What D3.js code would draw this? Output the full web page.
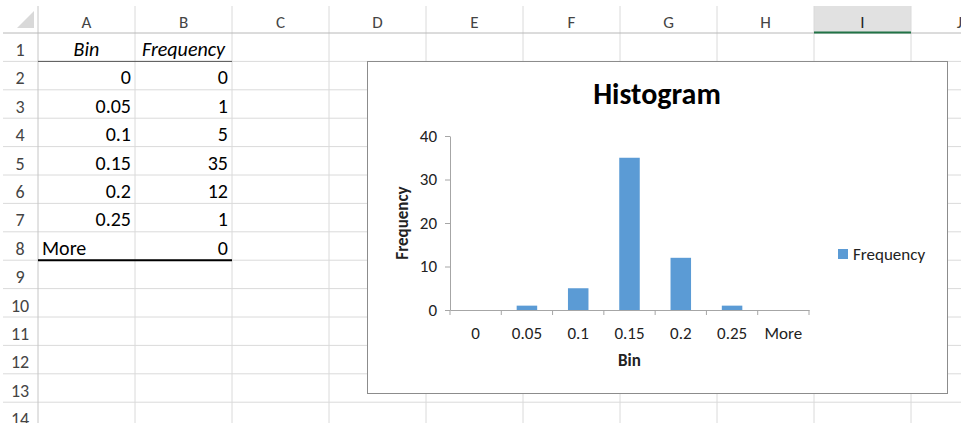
<!DOCTYPE html>
<html>
<head>
<meta charset="utf-8">
<script src="https://cdn.jsdelivr.net/npm/d3@7"></script>
<style>
  body { margin: 0; background: #fff; }
  text { font-family: Carlito, Calibri, "Open Sans", sans-serif; }
</style>
</head>
<body>
<div id="sheet"></div>
<script>
// Histogram data, also shown in the cells A1:B8
const bins = ["0", "0.05", "0.1", "0.15", "0.2", "0.25", "More"];
const freqs = [0, 1, 5, 35, 12, 1, 0];
const yTicks = [0, 10, 20, 30, 40];
const colLetters = ["A", "B", "C", "D", "E", "F", "G", "H", "I", "J"];
const rowNumbers = d3.range(1, 15);

const W = 961, H = 423;
const svg = d3.select("#sheet").append("svg")
    .attr("width", W)
    .attr("height", H);

// spreadsheet grid
const headTop = 6, headBottom = 33, rowH = 28.4;
const colX = d3.scaleLinear().domain([0, 1]).range([38, 135]); // one column ~97px
const rowY = i => headBottom + i * rowH;

const grid = svg.append("g");

// header background for selected column I
grid.append("rect")
    .attr("x", colX(8)).attr("y", headTop)
    .attr("width", colX(9) - colX(8)).attr("height", headBottom - headTop)
    .attr("fill", "#e1e1e1");

// horizontal grid lines
rowNumbers.forEach((r, i) => {
  grid.append("line")
      .attr("x1", 3).attr("x2", W)
      .attr("y1", rowY(i + 1)).attr("y2", rowY(i + 1))
      .attr("stroke", "#dadada");
});
// vertical grid lines
d3.range(0, 11).forEach(c => {
  grid.append("line")
      .attr("x1", colX(c)).attr("x2", colX(c))
      .attr("y1", headTop).attr("y2", H)
      .attr("stroke", c === 0 ? "#c6c6c6" : "#dadada");
});
// header bottom line
grid.append("line")
    .attr("x1", 3).attr("x2", W)
    .attr("y1", headBottom).attr("y2", headBottom)
    .attr("stroke", "#b8b8b8");
// selected column marker
grid.append("line")
    .attr("x1", colX(8)).attr("x2", colX(9))
    .attr("y1", headBottom - 0.5).attr("y2", headBottom - 0.5)
    .attr("stroke", "#217346").attr("stroke-width", 2);

// select-all triangle
grid.append("path")
    .attr("d", "M17,28 L34,28 L34,11 Z")
    .attr("fill", "#d9d9d9");

// column letters
grid.selectAll(".colhead")
    .data(colLetters)
    .enter().append("text")
    .attr("x", (d, i) => colX(i + 0.5))
    .attr("y", 28)
    .attr("text-anchor", "middle")
    .style("font-size", "17px")
    .attr("fill", d => d === "I" ? "#222" : "#444")
    .text(d => d);

// row numbers
grid.selectAll(".rowhead")
    .data(rowNumbers)
    .enter().append("text")
    .attr("x", 20)
    .attr("y", (d, i) => rowY(i) + 23)
    .attr("text-anchor", "middle")
    .style("font-size", "18px")
    .attr("fill", "#444")
    .text(d => d);

// cells A1:B8
const cells = svg.append("g").style("font-size", "20px").attr("fill", "#000");
cells.append("text").attr("x", colX(0.5)).attr("y", rowY(0) + 23)
    .attr("text-anchor", "middle").style("font-style", "italic").text("Bin");
cells.append("text").attr("x", colX(1.5)).attr("y", rowY(0) + 23)
    .attr("text-anchor", "middle").style("font-style", "italic").text("Frequency");
bins.forEach((b, i) => {
  const isNum = b !== "More";
  cells.append("text")
      .attr("x", isNum ? colX(1) - 4 : colX(0) + 4)
      .attr("y", rowY(i + 1) + 23)
      .attr("text-anchor", isNum ? "end" : "start")
      .text(b);
  cells.append("text")
      .attr("x", colX(2) - 4)
      .attr("y", rowY(i + 1) + 23)
      .attr("text-anchor", "end")
      .text(freqs[i]);
});
// table borders
cells.append("line")
    .attr("x1", colX(0)).attr("x2", colX(2))
    .attr("y1", rowY(1)).attr("y2", rowY(1))
    .attr("stroke", "#555").attr("stroke-width", 1);
cells.append("line")
    .attr("x1", colX(0)).attr("x2", colX(2))
    .attr("y1", rowY(8)).attr("y2", rowY(8))
    .attr("stroke", "#000").attr("stroke-width", 2);

// chart object
const chart = { x: 367, y: 61, w: 580, h: 332 };
const cg = svg.append("g").attr("transform", `translate(${chart.x},${chart.y})`);
cg.append("rect")
    .attr("x", 0.5).attr("y", 0.5)
    .attr("width", chart.w).attr("height", chart.h)
    .attr("fill", "#fff").attr("stroke", "#8c8c8c");

cg.append("text")
    .attr("x", 290).attr("y", 43)
    .attr("text-anchor", "middle")
    .style("font-size", "30px").style("font-weight", "bold")
    .attr("fill", "#000")
    .text("Histogram");

const plot = { left: 83, right: 442, top: 75, bottom: 249 };
const x = d3.scaleBand()
    .domain(bins)
    .range([plot.left, plot.right])
    .paddingInner(0.6).paddingOuter(0.3);
const y = d3.scaleLinear()
    .domain([0, 40])
    .range([plot.bottom, plot.top]);

// bars
cg.selectAll(".bar")
    .data(freqs)
    .enter().append("rect")
    .attr("x", (d, i) => x(bins[i]))
    .attr("y", d => y(d))
    .attr("width", x.bandwidth())
    .attr("height", d => y(0) - y(d))
    .attr("fill", "#5b9bd5");

const tickFont = "Carlito, Calibri, 'Open Sans', sans-serif";

// y axis
const yAxis = cg.append("g")
    .attr("transform", `translate(${plot.left},0)`)
    .call(d3.axisLeft(y).tickValues(yTicks).tickSize(5).tickSizeOuter(0).tickPadding(8));
yAxis.selectAll("path, line").attr("stroke", "#a6a6a6");
yAxis.selectAll("text").style("font-size", "17px").attr("fill", "#222")
    .style("font-family", tickFont);

// x axis: labels centred in bands, ticks on band boundaries
const xAxis = cg.append("g")
    .attr("transform", `translate(0,${plot.bottom})`)
    .call(d3.axisBottom(x).tickSize(0).tickSizeOuter(0).tickPadding(17));
xAxis.select("path").attr("stroke", "#a6a6a6");
xAxis.selectAll("text").style("font-size", "17px").attr("fill", "#222")
    .style("font-family", tickFont);
const step = x.step();
const boundaries = bins.map(b => x(b) - step * x.paddingInner() / 2).concat([plot.right]);
boundaries[0] = plot.left;
xAxis.selectAll(".btick")
    .data(boundaries)
    .enter().append("line")
    .attr("x1", d => d).attr("x2", d => d)
    .attr("y1", 0).attr("y2", 5)
    .attr("stroke", "#a6a6a6");

// axis titles
cg.append("text")
    .attr("x", (plot.left + plot.right) / 2).attr("y", 305)
    .attr("text-anchor", "middle")
    .style("font-size", "17px").style("font-weight", "bold")
    .attr("fill", "#222")
    .text("Bin");
cg.append("text")
    .attr("transform", `translate(41,${(plot.top + plot.bottom) / 2}) rotate(-90)`)
    .attr("text-anchor", "middle")
    .style("font-size", "17px").style("font-weight", "bold")
    .attr("fill", "#222")
    .text("Frequency");

// legend
const lg = cg.append("g").attr("transform", "translate(471,188)");
lg.append("rect").attr("width", 10).attr("height", 10).attr("fill", "#5b9bd5");
lg.append("text").attr("x", 15).attr("y", 11)
    .style("font-size", "17px").attr("fill", "#222")
    .text("Frequency");
</script>
</body>
</html>
